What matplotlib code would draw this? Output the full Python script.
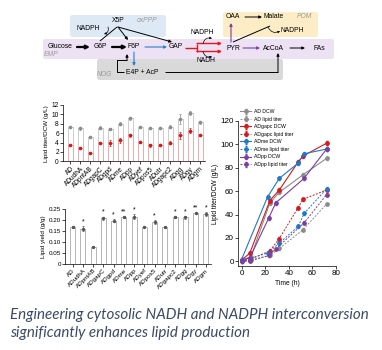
import matplotlib
matplotlib.use("Agg")
import matplotlib.pyplot as plt
import numpy as np

plt.rcParams['font.family'] = ['Liberation Sans', 'DejaVu Sans']

# ---------------- data ----------------
strains = ["AD", "ADudhA", "ADpntAB", "ADgapC", "ADgpd", "ADme", "ADpp", "ADyef",
           "ADpos5", "ADutr", "ADgapc2", "ADgg", "ADgy", "ADgm"]
dcw = [7.3, 7.0, 5.2, 7.2, 6.9, 8.0, 9.2, 7.3, 7.0, 7.2, 7.4, 9.0, 10.3, 8.3]
dcw_err = [0.3, 0.3, 0.2, 0.3, 0.3, 0.3, 0.3, 0.3, 0.2, 0.1, 0.4, 1.0, 0.5, 0.3]
lipid = [3.5, 2.8, 1.8, 4.0, 3.9, 4.5, 5.5, 4.1, 3.4, 3.5, 4.0, 5.5, 6.5, 5.6]
lipid_err = [0.2, 0.2, 0.1, 0.2, 0.6, 0.5, 0.3, 0.1, 0.3, 0.1, 0.4, 0.8, 0.5, 0.3]
yield_gg = [0.168, 0.160, 0.077, 0.207, 0.197, 0.212, 0.215, 0.170, 0.190, 0.168,
            0.213, 0.212, 0.230, 0.228]
yield_err = [0.004, 0.012, 0.002, 0.008, 0.008, 0.004, 0.012, 0.002, 0.008, 0.006,
             0.006, 0.006, 0.003, 0.008]
yield_sig = ["", "*", "", "*", "*", "**", "*", "", "*", "", "*", "*", "**", "*"]

time_ad = [0, 8, 24, 32, 52, 72]
ad_dcw = [1, 4, 50, 59, 74, 88]
ad_lip = [0, 1, 5, 11, 27, 49]
time_gapc = [0, 7, 24, 32, 48, 52, 72]
gapc_dcw = [1, 7, 52, 61, 85, 90, 101]
gapc_lip = [0, 1.5, 9, 19.5, 46, 53, 61]
time_me = [0, 22, 32, 48, 53, 72]
me_dcw = [1.5, 55, 71, 84, 92, 96]
me_lip = [0.3, 7, 15.5, 30, 41, 62]
time_pp = [0, 7, 23, 29, 53, 72]
pp_dcw = [1, 3, 37, 50, 71, 96]
pp_lip = [0, 0.3, 5, 10.5, 33, 57]

series_names = ["AD", "ADgapc", "ADme", "ADpp"]
series_colors = ["#8c8c8c", "#d7191c", "#1f78c8", "#7b3fa0"]

caption = ["Engineering cytosolic NADH and NADPH interconversion",
           "significantly enhances lipid production"]

# ---------------- figure ----------------
W, H = 382, 350
fig = plt.figure(figsize=(W / 100, H / 100), dpi=100)

# background axis in pixel coordinates for the pathway diagram + caption
ax0 = fig.add_axes([0, 0, 1, 1])
ax0.set_xlim(0, W)
ax0.set_ylim(H, 0)
ax0.axis("off")
ax0.patch.set_alpha(0)

from matplotlib.patches import FancyBboxPatch

def box(x0, y0, x1, y1, fc):
    ax0.add_patch(FancyBboxPatch((x0, y0), x1 - x0, y1 - y0,
                                 boxstyle="round,pad=0,rounding_size=2.5",
                                 fc=fc, ec="none", zorder=0))

box(70, 15, 166, 37, "#dde9f5")
box(223, 12, 318, 37, "#fcedc6")
box(97, 59, 283, 80, "#d9d9d9")
box(43, 39, 334, 59, "#ede1f4")

fs = 4.9
def t(x, y, s, **kw):
    kw.setdefault("fontsize", fs)
    ax0.text(x, y, s, ha="center", va="center", **kw)

t(118, 21, "X5P")
t(147, 20, "oxPPP", style="italic", color="#9a9a9a")
t(88, 28, "NADPH")
t(233, 17, "OAA")
t(274, 17, "Malate")
t(304, 17, "POM", style="italic", color="#9a9a9a")
t(292, 31, "NADPH")
t(202, 33, "NADPH")
t(60, 47, "Glucose")
t(51, 54, "EMP", style="italic", color="#9a9a9a")
t(100, 47, "G6P")
t(134, 47, "F6P")
t(176, 47, "GAP")
t(233, 48, "PYR")
t(273, 48, "AcCoA")
t(319, 48, "FAs")
t(206, 61, "NADH")
t(104, 75, "NOG", style="italic", color="#9a9a9a")
t(142, 72, "E4P + AcP")

def arr(x0, y0, x1, y1, color="black", lw=0.7, ms=4, cs=None):
    props = dict(arrowstyle="-|>", lw=lw, color=color, mutation_scale=ms,
                 shrinkA=0, shrinkB=0)
    if cs:
        props["connectionstyle"] = cs
    ax0.annotate("", xy=(x1, y1), xytext=(x0, y0), arrowprops=props)

def line(xs, ys, color="black", lw=0.7):
    ax0.plot(xs, ys, color=color, lw=lw, solid_capstyle="butt")

# EMP main path
arr(77, 47, 90, 47, lw=1.6, ms=5)
arr(112, 47, 127, 47, lw=1.6, ms=5)
arr(145, 47, 167, 47, color="#2a7fd0", lw=0.8)
arr(134, 52, 134, 66, color="#2a7fd0", lw=0.8)
# red fork GAP -> PYR
line([185, 197], [47.5, 47.5], color="#e8151b", lw=1.0)
line([197, 197], [43.5, 51.5], color="#e8151b", lw=1.0)
arr(197, 43.5, 222, 43.5, color="#e8151b", lw=1.0)
arr(197, 51.5, 222, 51.5, color="#e8151b", lw=1.0)
arr(203, 43.5, 212, 38.5, lw=0.5, ms=3, cs="arc3,rad=-0.5")
arr(203, 51.5, 212, 56.5, lw=0.5, ms=3, cs="arc3,rad=0.5")
# PYR branches
arr(243, 48, 260, 48, color="#7b3fa0", lw=0.8)
arr(231, 42, 231, 23, color="#7b3fa0", lw=0.8)
arr(245, 17, 262, 17, lw=0.7)
line([270, 233], [26, 42], lw=0.7)
arr(268, 27, 280, 31, lw=0.5, ms=3, cs="arc3,rad=0.5")
arr(290, 48, 305, 48, lw=0.7)
# oxPPP lines
line([100, 117], [41, 27], lw=0.7)
arr(118, 27, 128, 40, lw=0.7)
arr(118, 27, 172, 42, lw=0.7)
arr(108, 27, 104, 34, lw=0.5, ms=3, cs="arc3,rad=-0.5")
# NOG lines
line([124, 117, 117, 127], [72, 72, 60, 60], lw=0.7)
arr(127, 60, 127, 54, lw=0.7)
line([165, 278], [72, 72], lw=0.7)
arr(278, 72, 278, 53, lw=0.7)

# caption
ax0.text(10, 315, caption[0], fontsize=10.9, style="italic", family="Lato",
         color="#3b4a66", ha="left", va="center")
ax0.text(10, 333, caption[1], fontsize=10.9, style="italic", family="Lato",
         color="#3b4a66", ha="left", va="center")

def style_axes(ax, fsz):
    for s in ["top", "right"]:
        ax.spines[s].set_visible(False)
    for s in ["left", "bottom"]:
        ax.spines[s].set_linewidth(0.5)
    ax.tick_params(width=0.5, length=2, labelsize=fsz, pad=1)

x = np.arange(len(strains))

# ---------------- bar chart 1 ----------------
ax1 = fig.add_axes([63 / W, 1 - 161.3 / H, (205 - 63) / W, (161.3 - 105) / H])
ax1.bar(x, dcw, width=0.5, fc="white", ec="#c4c4c4", lw=0.6)
ax1.bar(x, lipid, width=0.5, fc="white", ec="#f0a0a0", lw=0.6)
ax1.errorbar(x, dcw, yerr=dcw_err, fmt="o", ms=1.6, color="#8c8c8c", elinewidth=0.5,
             capsize=1, capthick=0.5)
ax1.errorbar(x, lipid, yerr=lipid_err, fmt="o", ms=1.6, color="#c81e1e", elinewidth=0.5,
             capsize=1, capthick=0.5)
ax1.set_xlim(-0.75, 13.5)
ax1.set_ylim(0, 12)
ax1.set_yticks(range(0, 13, 2))
ax1.set_xticks(x)
ax1.set_xticklabels(strains, rotation=45, ha="right", rotation_mode="anchor")
ax1.set_ylabel("Lipid titer/DCW (g/L)", fontsize=4.5, labelpad=2)
style_axes(ax1, 4.7)

# ---------------- bar chart 2 ----------------
ax2 = fig.add_axes([65 / W, 1 - 263.7 / H, (211 - 65) / W, (263.7 - 209) / H])
ax2.bar(x, yield_gg, width=0.5, fc="white", ec="#a8a8a8", lw=0.6)
ax2.errorbar(x, yield_gg, yerr=yield_err, fmt="o", ms=1.4, color="#555555",
             elinewidth=0.5, capsize=1, capthick=0.5)
for xi, v, e, s in zip(x, yield_gg, yield_err, yield_sig):
    if s:
        ax2.text(xi, v + e + 0.004, s, ha="center", va="bottom", fontsize=5)
ax2.set_xlim(-0.75, 13.5)
ax2.set_ylim(0, 0.25)
ax2.set_yticks([0, 0.05, 0.10, 0.15, 0.20, 0.25])
ax2.set_yticklabels(["0", "0.05", "0.10", "0.15", "0.20", "0.25"])
ax2.set_xticks(x)
ax2.set_xticklabels(strains, rotation=45, ha="right", rotation_mode="anchor")
ax2.set_ylabel("Lipid yield (g/g)", fontsize=4.5, labelpad=2)
style_axes(ax2, 4.5)

# ---------------- line chart ----------------
ax3 = fig.add_axes([238 / W, 1 - 266 / H, (336 - 238) / W, (266 - 121) / H])
tdata = [time_ad, time_gapc, time_me, time_pp]
ddata = [ad_dcw, gapc_dcw, me_dcw, pp_dcw]
ldata = [ad_lip, gapc_lip, me_lip, pp_lip]
for name, c, tt, d, l in zip(series_names, series_colors, tdata, ddata, ldata):
    ax3.errorbar(tt, d, yerr=[1.5] * len(tt), fmt="-o", color=c, lw=0.8, ms=2.4,
                 elinewidth=0.4, capsize=0.8, label=name + " DCW")
    ax3.errorbar(tt, l, yerr=[1.2] * len(tt), fmt="--o", color=c, lw=0.7, ms=2.4,
                 elinewidth=0.4, capsize=0.8, dashes=(2, 1.5), label=name + " lipid titer")
ax3.set_xlim(-3, 80)
ax3.set_ylim(-4, 120)
ax3.set_xticks(range(0, 81, 20))
ax3.set_yticks(range(0, 121, 20))
ax3.set_xlabel("Time (h)", fontsize=4.8, labelpad=2)
ax3.set_ylabel("Lipid titer/DCW (g/L)", fontsize=4.8, labelpad=1)
style_axes(ax3, 5.8)
leg = ax3.legend(loc="upper left", bbox_to_anchor=(240 / W, 1 - 109 / H),
                 bbox_transform=fig.transFigure, fontsize=3.7, frameon=False,
                 handlelength=2.2, handletextpad=0.6, labelspacing=0.5,
                 borderpad=0, borderaxespad=0)

fig.savefig("out.png", dpi=100)
